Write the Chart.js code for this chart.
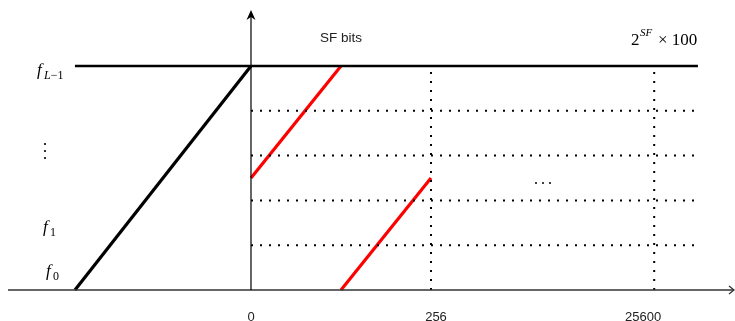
<!DOCTYPE html>
<html>
<head>
<meta charset="utf-8">
<script src="https://cdn.jsdelivr.net/npm/chart.js@4/dist/chart.umd.min.js"></script>
<style>
  html, body { margin: 0; padding: 0; background: #fff; }
  #wrap { width: 735px; height: 321px; position: relative; }
</style>
</head>
<body>
<div id="wrap"><canvas id="c"></canvas></div>
<script>
// Horizontal positions: 0 = origin, 1 = 256 samples, 2.24 = 25600 samples (axis is broken by "...")
const xTickPositions = [0, 1, 2.24];
const xTickLabels = ['0', '256', '25600'];

// Frequency levels f0 .. f_{L-1}
const levelCount = 5;
const gridLevels = [1, 2, 3, 4];

// Reference ramp (black) running up to the top level
const rampStartX = -0.978;
// Red chirp segments: [x0, y0, x1, y1]
const chirpA = [0, 2.5, 0.5, 5];
const chirpB = [0.5, 0, 1, 2.5];

// Extents
const topLineEndX = 2.483;
const gridEndX = 2.467;
const xMin = -1.3944, xMax = 2.6889;
const yMin = -0.692, yMax = 6.473;

const seg = (x0, y0, x1, y1) => [{x: x0, y: y0}, {x: x1, y: y1}];

const datasets = [];
// dotted horizontal grid at each level
gridLevels.forEach(l => datasets.push({
  data: seg(0, l, gridEndX, l), borderColor: '#000', borderWidth: 2, borderDash: [2, 7]
}));
// dotted verticals at 256 and 25600
[xTickPositions[1], xTickPositions[2]].forEach(x => datasets.push({
  data: seg(x, 0, x, levelCount), borderColor: '#000', borderWidth: 2, borderDash: [2, 7]
}));
// top level line
datasets.push({ data: seg(rampStartX, levelCount, topLineEndX, levelCount), borderColor: '#000', borderWidth: 2.5 });
// black ramp
datasets.push({ data: seg(rampStartX, 0, 0, levelCount), borderColor: '#000', borderWidth: 3.2 });
// red chirps
datasets.push({ data: seg(...chirpA), borderColor: '#ff0000', borderWidth: 3.2 });
datasets.push({ data: seg(...chirpB), borderColor: '#ff0000', borderWidth: 3.2 });
datasets.forEach(d => { d.showLine = true; d.pointRadius = 0; d.clip = false; d.fill = false; d.tension = 0; });

// Axes, arrows and all annotations
const annotate = {
  id: 'annotate',
  afterDatasetsDraw(chart) {
    const ctx = chart.ctx;
    const xs = chart.scales.x, ys = chart.scales.y;
    const px = v => xs.getPixelForValue(v), py = v => ys.getPixelForValue(v);
    const ox = px(0), oy = py(0);
    ctx.save();
    // x axis
    ctx.strokeStyle = '#333'; ctx.lineWidth = 1.3;
    ctx.beginPath(); ctx.moveTo(8, oy); ctx.lineTo(733, oy); ctx.stroke();
    ctx.beginPath(); ctx.moveTo(729, oy - 4); ctx.lineTo(734, oy); ctx.lineTo(729, oy + 4); ctx.stroke();
    // y axis
    ctx.strokeStyle = '#000'; ctx.lineWidth = 1.2;
    ctx.beginPath(); ctx.moveTo(ox, oy); ctx.lineTo(ox, 14); ctx.stroke();
    ctx.fillStyle = '#000';
    ctx.beginPath(); ctx.moveTo(ox, 10); ctx.lineTo(ox - 4.5, 20); ctx.lineTo(ox, 17); ctx.lineTo(ox + 4.5, 20); ctx.closePath(); ctx.fill();

    // tick labels
    ctx.fillStyle = '#222'; ctx.font = '13px "Liberation Sans", Arial, sans-serif';
    ctx.textAlign = 'center'; ctx.textBaseline = 'alphabetic';
    const tickShift = [0, 5, -11];
    xTickPositions.forEach((v, i) => ctx.fillText(xTickLabels[i], px(v) + tickShift[i], 321));

    // header texts
    ctx.font = '13.5px "Liberation Sans", Arial, sans-serif';
    ctx.fillText('SF bits', 341, 42);
    ctx.textAlign = 'left';
    ctx.font = '17px "Liberation Serif", "DejaVu Serif", serif';
    ctx.fillStyle = '#000';
    ctx.fillText('2', 631, 45);
    ctx.font = 'italic 11px "Liberation Serif", serif';
    ctx.fillText('SF', 640, 36);
    ctx.font = '17px "Liberation Serif", "DejaVu Serif", serif';
    ctx.fillText('\u00d7 100', 658, 45);

    // level labels: italic f with a subscript (italic letters, upright digits)
    const fLabel = (x, y, subItalic, subUpright) => {
      ctx.font = 'italic 17px "Liberation Serif", serif';
      ctx.fillText('f', x, y);
      let sx = x + 7;
      if (subItalic) {
        ctx.font = 'italic 12px "Liberation Serif", serif';
        ctx.fillText(subItalic, sx, y + 4);
        sx += ctx.measureText(subItalic).width;
      }
      ctx.font = '12px "Liberation Serif", serif';
      ctx.fillText(subUpright, sx, y + 4);
    };
    fLabel(37, 75, 'L', '\u22121');
    fLabel(43, 232, '', '1');
    fLabel(46, 276, '', '0');
    // vertical ellipsis
    [144, 151, 158].forEach(y => { ctx.beginPath(); ctx.arc(45, y, 1.1, 0, 2 * Math.PI); ctx.fill(); });
    // horizontal ellipsis between the grid columns
    [536, 543, 550].forEach(x => { ctx.beginPath(); ctx.arc(x, 183, 1, 0, 2 * Math.PI); ctx.fill(); });
    ctx.restore();
  }
};

new Chart(document.getElementById('c'), {
  type: 'scatter',
  data: { datasets },
  options: {
    responsive: true, maintainAspectRatio: false, animation: false,
    layout: { padding: 0 },
    plugins: { legend: { display: false }, tooltip: { enabled: false } },
    scales: {
      x: { type: 'linear', min: xMin, max: xMax, display: false },
      y: { type: 'linear', min: yMin, max: yMax, display: false }
    }
  },
  plugins: [annotate]
});
</script>
</body>
</html>
